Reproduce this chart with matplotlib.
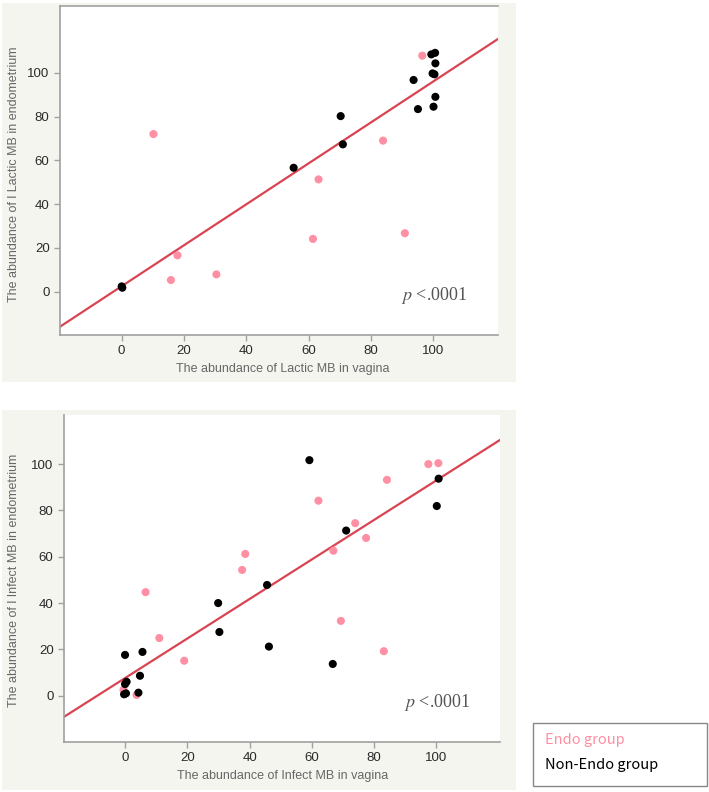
import matplotlib
matplotlib.use("Agg")
from matplotlib import pyplot as plt
from matplotlib.patches import Rectangle

# Lactic MB: vagina (x) vs endometrium (y)
lactic_endo_x = [10.2, 17.9, 15.8, 30.4, 61.4, 63.2, 83.9, 90.9, 96.5]
lactic_endo_y = [72.0, 16.6, 5.3, 7.9, 24.1, 51.3, 69.0, 26.7, 107.8]
lactic_non_x = [0.2, 0.0, 55.2, 70.3, 71.0, 93.7, 95.1, 99.4, 100.6, 100.7,
                99.8, 100.4, 100.7, 100.1]
lactic_non_y = [1.8, 2.4, 56.6, 80.2, 67.3, 96.7, 83.4, 108.4, 109.1, 104.3,
                99.7, 99.3, 89.0, 84.5]
lactic_fit = (2.5, 0.935)  # intercept, slope

# Infect MB: vagina (x) vs endometrium (y)
infect_endo_x = [-0.5, 3.7, 6.6, 11.0, 19.0, 37.6, 38.6, 62.1, 66.9, 69.3,
                 73.9, 77.4, 83.1, 84.1, 97.4, 100.6]
infect_endo_y = [2.5, 0.3, 44.7, 24.9, 15.1, 54.3, 61.2, 84.2, 62.6, 32.3,
                 74.5, 68.1, 19.2, 93.2, 100.0, 100.4]
infect_non_x = [0.0, 5.6, 4.8, 0.5, 0.0, 0.3, -0.3, 4.3, 29.9, 30.3, 45.6,
                46.2, 59.2, 66.7, 71.0, 100.7, 100.1]
infect_non_y = [17.6, 18.9, 8.6, 6.0, 5.0, 1.0, 0.6, 1.3, 40.0, 27.5, 47.8,
                21.2, 101.7, 13.7, 71.3, 93.7, 81.9]
infect_fit = (7.6, 0.854)

ticks = [0, 20, 40, 60, 80, 100]
legend_labels = ["Endo group", "Non-Endo group"]

PINK = "#ff8fa3"
LINE = "#d94452"
BEIGE = "#f5f5f0"
SPINE = "#a0a0a0"

plt.rcParams["mathtext.fontset"] = "stix"
plt.rcParams["font.family"] = ["Liberation Sans", "DejaVu Sans"]

fig = plt.figure(figsize=(7.09, 7.92), dpi=100)
W, H = 709.0, 792.0


def px_rect(x0, y0, x1, y1):
    return [x0 / W, 1 - y1 / H, (x1 - x0) / W, (y1 - y0) / H]


# beige panels behind the plots
for x0, y0, x1, y1 in [(2, 3, 516, 382), (2, 410, 516, 790)]:
    r = px_rect(x0, y0, x1, y1)
    fig.patches.append(Rectangle((r[0], r[1]), r[2], r[3], transform=fig.transFigure,
                                 facecolor=BEIGE, edgecolor="none", zorder=-5))


def panel(rect, ex, ey, nx, ny, fit, xlim, ylim, xlabel, ylabel, top_spine, xlab_y, ylab_x):
    ax = fig.add_axes(px_rect(*rect))
    ax.set_facecolor("white")
    ax.scatter(ex, ey, s=34, color=PINK, edgecolors="none", zorder=3)
    ax.scatter(nx, ny, s=34, color="black", edgecolors="none", zorder=4)
    a, b = fit
    ax.plot(xlim, [a + b * xlim[0], a + b * xlim[1]], color=LINE, lw=1.6, zorder=2)
    ax.set_xlim(*xlim)
    ax.set_ylim(*ylim)
    ax.set_xticks(ticks)
    ax.set_yticks(ticks)
    for s in ["left", "bottom", "top"]:
        ax.spines[s].set_color(SPINE)
        ax.spines[s].set_linewidth(1.2)
    ax.spines["right"].set_visible(False)
    ax.spines["top"].set_visible(top_spine)
    ax.tick_params(colors=SPINE, labelcolor="#2a2a2a", labelsize=9.5, length=4, width=1)
    ax.text(0.855, 0.12, r"$p$ <.0001", transform=ax.transAxes, ha="center", va="center",
            fontsize=13, color="#555555", family="Liberation Serif")
    fig.text(283 / W, 1 - xlab_y / H, xlabel, ha="center", va="center",
             fontsize=9, color="#666666")
    fig.text(14 / W, 1 - ylab_x / H, ylabel, ha="center", va="center", rotation=90,
             fontsize=9, color="#666666")
    return ax


panel((60, 6, 498, 335), lactic_endo_x, lactic_endo_y, lactic_non_x, lactic_non_y,
      lactic_fit, (-19.8, 120.8), (-19.8, 130.5),
      "The abundance of Lactic MB in vagina",
      "The abundance of l Lactic MB in endometrium", True, 369, 174)

panel((64, 415, 500, 742), infect_endo_x, infect_endo_y, infect_non_x, infect_non_y,
      infect_fit, (-19.6, 120.4), (-20.0, 121.2),
      "The abundance of Infect MB in vagina",
      "The abundance of l Infect MB in endometrium", False, 776, 580)

# legend box
r = px_rect(533, 723, 707, 786)
fig.patches.append(Rectangle((r[0], r[1]), r[2], r[3], transform=fig.transFigure,
                             facecolor="white", edgecolor="#888888", lw=1.0, zorder=1))
for label, color, y in zip(legend_labels, [PINK, "black"], [740, 765]):
    fig.text(545 / W, 1 - y / H, label, ha="left", va="center", fontsize=10.5,
             color=color, family=["Noto Sans CJK JP", "DejaVu Sans"])

fig.savefig("out.png", dpi=100, facecolor="white")
